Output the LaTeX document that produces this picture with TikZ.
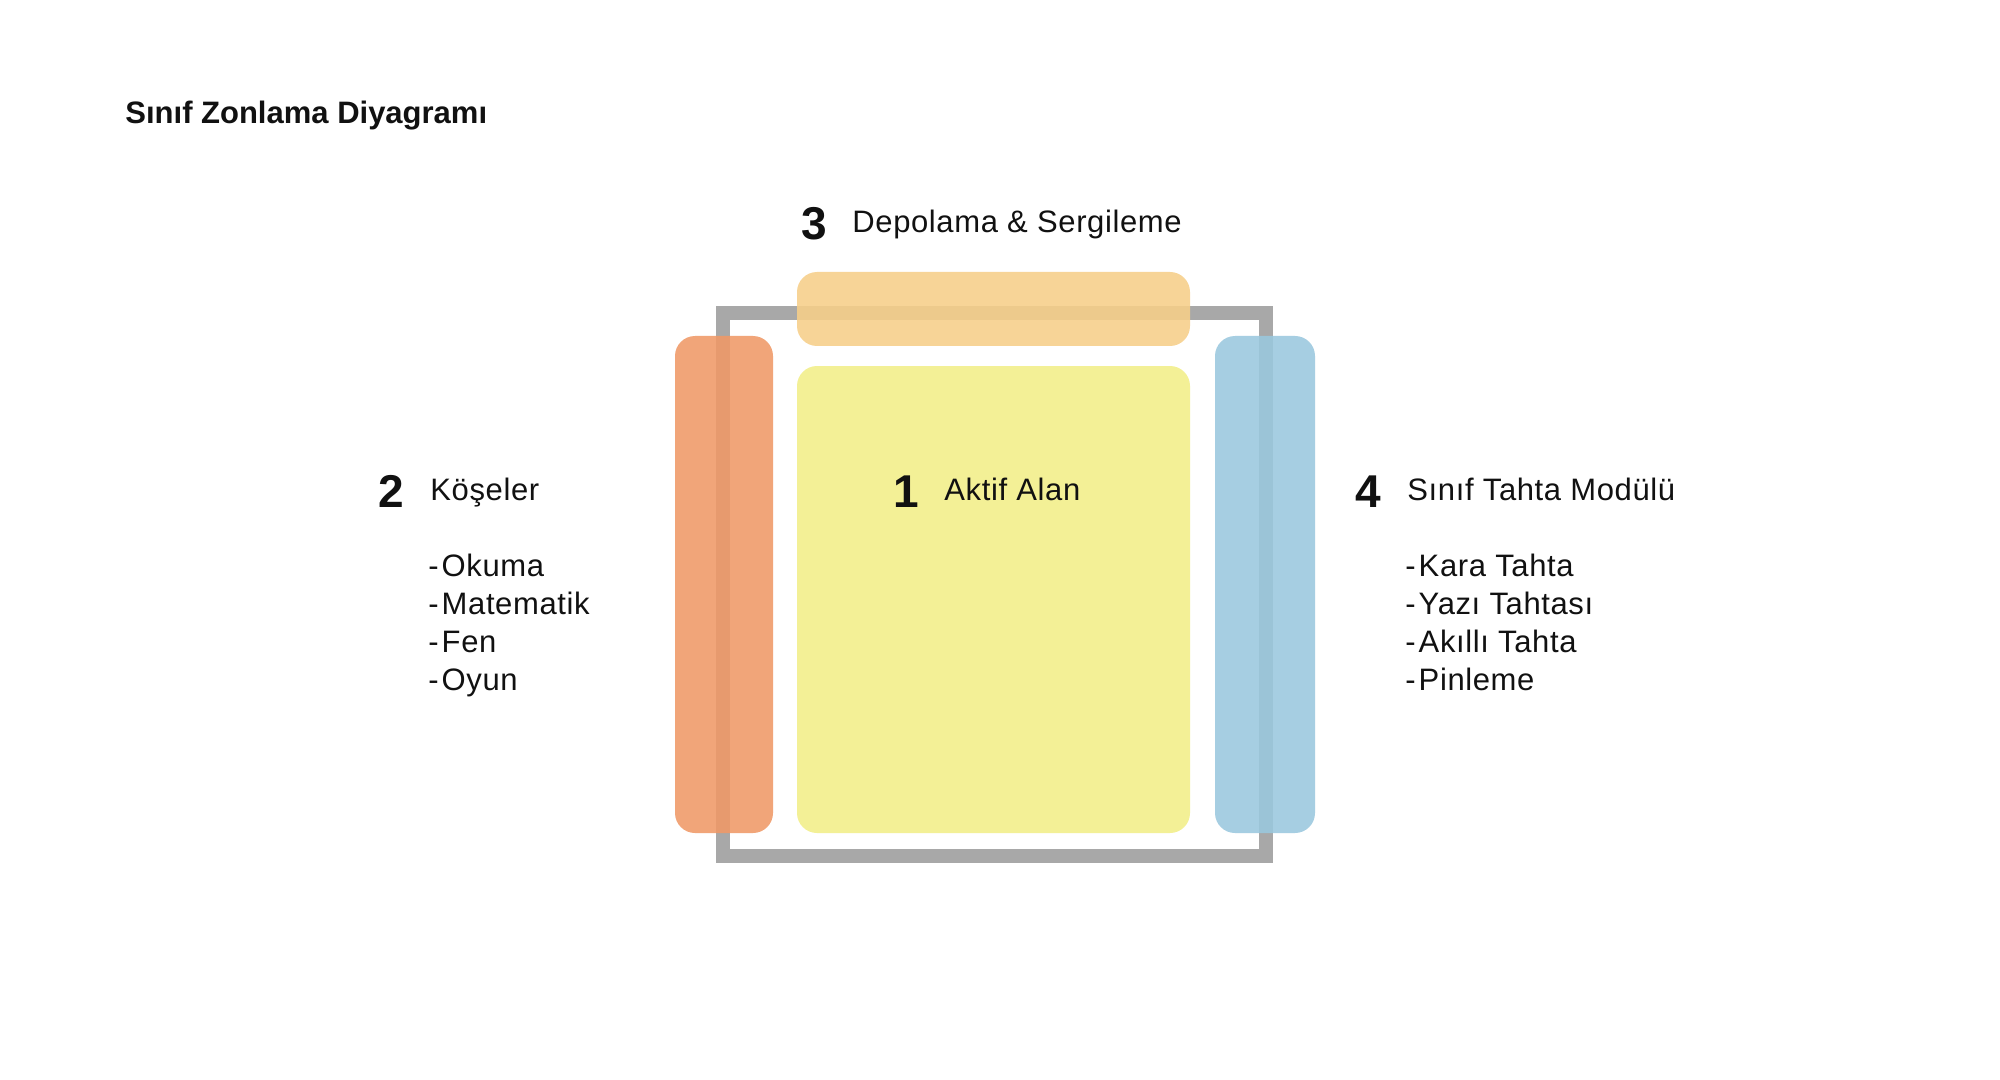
\documentclass[tikz,border=0pt]{standalone}
\usepackage{fontspec}
\setmainfont{Liberation Sans}
\newfontfamily\bodyfont[LetterSpace=2]{Liberation Sans}
\definecolor{framegray}{RGB}{168,168,168}
\definecolor{zorange}{RGB}{240,153,103}
\definecolor{zblue}{RGB}{154,200,222}
\definecolor{zpeach}{RGB}{247,207,137}
\definecolor{zyellow}{RGB}{243,240,150}
\definecolor{ink}{RGB}{17,17,17}
\newcommand{\dashitem}{-\kern1.5pt}
\tikzset{
  zone/.style={fill opacity=0.88, rounded corners=10pt},
  numlabel/.style={anchor=base west, inner sep=0pt, text=ink, font=\fontsize{23pt}{23pt}\selectfont\bfseries},
  txtlabel/.style={anchor=base west, inner sep=0pt, text=ink, font=\fontsize{15.5pt}{19pt}\bodyfont},
  titlelabel/.style={anchor=base west, inner sep=0pt, text=ink, font=\fontsize{15.5pt}{19pt}\selectfont\bfseries}
}
\begin{document}
\begin{tikzpicture}[x=0.5pt,y=-0.5pt]
\useasboundingbox[fill=white] (0,0) rectangle (2000,1080);
% title
\node[titlelabel] (title) at (125,123.5) {Sınıf Zonlama Diyagramı};
% room frame
\draw[framegray, line width=6.75pt] (722.8,312.8) rectangle (1266,856);
% zones
\fill[zone, zorange] (675,336) rectangle (773,833);
\fill[zone, zblue] (1215,336) rectangle (1315,833);
\fill[zone, zpeach] (797,272) rectangle (1190,346);
\fill[zyellow, rounded corners=10pt] (797,366) rectangle (1190,833);
% zone 3
\node[numlabel] (n3) at (801,240) {3};
\node[txtlabel] (t3) at (852,233) {Depolama \& Sergileme};
% zone 2
\node[numlabel] (n2) at (378,507) {2};
\node[txtlabel] (t2) at (430,500) {Köşeler};
\node[txtlabel] (l2a) at (428,576) {\dashitem Okuma};
\node[txtlabel] (l2b) at (428,614) {\dashitem Matematik};
\node[txtlabel] (l2c) at (428,652) {\dashitem Fen};
\node[txtlabel] (l2d) at (428,690) {\dashitem Oyun};
% zone 1
\node[numlabel] (n1) at (893,507) {1};
\node[txtlabel] (t1) at (944,500) {Aktif Alan};
% zone 4
\node[numlabel] (n4) at (1355,507) {4};
\node[txtlabel] (t4) at (1407,500) {Sınıf Tahta Modülü};
\node[txtlabel] (l4a) at (1405,576) {\dashitem Kara Tahta};
\node[txtlabel] (l4b) at (1405,614) {\dashitem Yazı Tahtası};
\node[txtlabel] (l4c) at (1405,652) {\dashitem Akıllı Tahta};
\node[txtlabel] (l4d) at (1405,690) {\dashitem Pinleme};
\end{tikzpicture}
\end{document}
